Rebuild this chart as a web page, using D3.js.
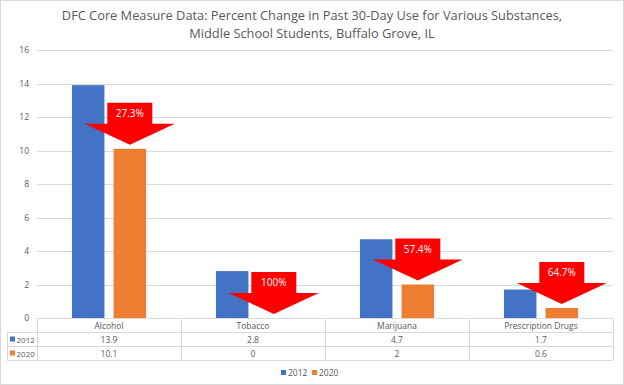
<!DOCTYPE html>
<html>
<head>
<meta charset="utf-8">
<script src="https://cdn.jsdelivr.net/npm/d3@7"></script>
<style>
  body { margin: 0; background: #fff; }
  svg { font-family: "Open Sans", sans-serif; }
</style>
</head>
<body>
<div id="chart"></div>
<script>
// chart data
var categories = ["Alcohol", "Tobacco", "Marijuana", "Prescription Drugs"];
var years = ["2012", "2020"];
var values2012 = [13.9, 2.8, 4.7, 1.7];
var values2020 = [10.1, 0, 2, 0.6];
var changeLabels = ["27.3%", "100%", "57.4%", "64.7%"];
var yTicks = [0, 2, 4, 6, 8, 10, 12, 14, 16];
var colors = ["#4472C4", "#ED7D31"];
var textColor = "#595959";

var W = 624, H = 385;
var margin = {top: 50, left: 37, right: 11, bottom: 67};

var svg = d3.select("#chart").append("svg")
  .attr("width", W).attr("height", H);

svg.append("rect")
  .attr("x", 0.5).attr("y", 0.5)
  .attr("width", W - 1).attr("height", H - 1)
  .attr("fill", "#fff").attr("stroke", "#d9d9d9");

// title
var title = ["DFC Core Measure Data: Percent Change in Past 30-Day Use for Various Substances,",
             "Middle School Students, Buffalo Grove, IL"];
svg.append("g").selectAll("text")
  .data(title).enter().append("text")
  .attr("x", W / 2)
  .attr("y", (d, i) => 20 + i * 18)
  .attr("text-anchor", "middle")
  .attr("fill", textColor)
  .style("font-size", "12.8px")
  .text(d => d);

var x = d3.scaleBand()
  .domain(categories)
  .range([margin.left, W - margin.right]);

var x1 = d3.scaleBand()
  .domain(years)
  .range([0, x.bandwidth()])
  .paddingInner(0.22)
  .paddingOuter(0.84);

var y = d3.scaleLinear()
  .domain([0, 16])
  .range([H - margin.bottom, margin.top]);

// gridlines + y labels
var grid = svg.append("g");
grid.selectAll("line")
  .data(yTicks).enter().append("line")
  .attr("x1", margin.left).attr("x2", W - margin.right)
  .attr("y1", d => Math.round(y(d)) + 0.5)
  .attr("y2", d => Math.round(y(d)) + 0.5)
  .attr("stroke", "#d9d9d9");
grid.selectAll("text")
  .data(yTicks).enter().append("text")
  .attr("x", 29)
  .attr("y", d => y(d) + 3)
  .attr("text-anchor", "end")
  .attr("fill", textColor)
  .style("font-size", "8.5px")
  .text(d => d);

// bars
var rows = categories.map((c, i) => ({cat: c, vals: [values2012[i], values2020[i]]}));
var groups = svg.append("g").selectAll("g")
  .data(rows).enter().append("g")
  .attr("transform", d => "translate(" + x(d.cat) + ",0)");
groups.selectAll("rect")
  .data(d => d.vals.map((v, j) => ({year: years[j], v: v, j: j})))
  .enter().append("rect")
  .attr("x", d => x1(d.year))
  .attr("width", x1.bandwidth())
  .attr("y", d => y(d.v))
  .attr("height", d => y(0) - y(d.v))
  .attr("fill", d => colors[d.j]);

// red arrows showing percent change
var shaftW = 45, wingW = 90, shaftH = 21, headH = 21;
var arrows = svg.append("g").selectAll("g")
  .data(rows).enter().append("g")
  .attr("transform", d => {
    var tx = x(d.cat) + x1("2020") + x1.bandwidth() / 2;
    var ty = y(d.vals[1]) - 4;
    return "translate(" + tx + "," + ty + ")";
  });
arrows.append("path")
  .attr("d", "M" + (-shaftW / 2) + "," + (-shaftH - headH) +
    "H" + (shaftW / 2) + "V" + (-headH) + "H" + (wingW / 2) +
    "L0,0L" + (-wingW / 2) + "," + (-headH) + "H" + (-shaftW / 2) + "Z")
  .attr("fill", "#ff0000");
arrows.append("text")
  .attr("x", 0)
  .attr("y", -headH - shaftH / 2 + 3.5)
  .attr("text-anchor", "middle")
  .attr("fill", "#fff")
  .style("font-size", "10px")
  .text((d, i) => changeLabels[i]);

// data table under the axis
var t0 = y(0), rowH = 14, tableLeft = 7;
var table = svg.append("g").attr("stroke", "#d9d9d9").attr("shape-rendering", "crispEdges");
[0, 1, 2, 3].forEach(r => {
  table.append("line")
    .attr("x1", r == 0 ? margin.left : tableLeft)
    .attr("x2", W - margin.right)
    .attr("y1", t0 + r * rowH).attr("y2", t0 + r * rowH);
});
table.selectAll(".v").data(categories.concat(["_end"])).enter().append("line")
  .attr("x1", (d, i) => i < categories.length ? x(d) : W - margin.right)
  .attr("x2", (d, i) => i < categories.length ? x(d) : W - margin.right)
  .attr("y1", t0).attr("y2", t0 + 3 * rowH);
table.append("line")
  .attr("x1", tableLeft).attr("x2", tableLeft)
  .attr("y1", t0 + rowH).attr("y2", t0 + 3 * rowH);

var tt = svg.append("g").attr("fill", textColor).style("font-size", "8.5px");
tt.selectAll(".h").data(categories).enter().append("text")
  .attr("x", d => x(d) + x.bandwidth() / 2)
  .attr("y", t0 + 10.5)
  .attr("text-anchor", "middle")
  .text(d => d);
[values2012, values2020].forEach((vals, r) => {
  tt.selectAll(".r" + r).data(vals).enter().append("text")
    .attr("x", (d, i) => x(categories[i]) + x.bandwidth() / 2)
    .attr("y", t0 + (r + 1) * rowH + 10.5)
    .attr("text-anchor", "middle")
    .text(d => d);
  tt.append("rect")
    .attr("x", tableLeft + 3).attr("y", t0 + (r + 1) * rowH + 4.5)
    .attr("width", 5).attr("height", 5)
    .attr("fill", colors[r]);
  tt.append("text")
    .attr("x", tableLeft + 9.5).attr("y", t0 + (r + 1) * rowH + 10.5)
    .style("font-size", "8px")
    .text(years[r]);
});

// legend
var legend = svg.append("g").selectAll("g")
  .data(years).enter().append("g")
  .attr("transform", (d, i) => "translate(" + (281 + i * 31) + ",373)");
legend.append("rect")
  .attr("x", 0).attr("y", -3).attr("width", 5).attr("height", 5)
  .attr("fill", (d, i) => colors[i]);
legend.append("text")
  .attr("x", 7).attr("y", 3)
  .attr("fill", textColor)
  .style("font-size", "8.5px")
  .text(d => d);
</script>
</body>
</html>
